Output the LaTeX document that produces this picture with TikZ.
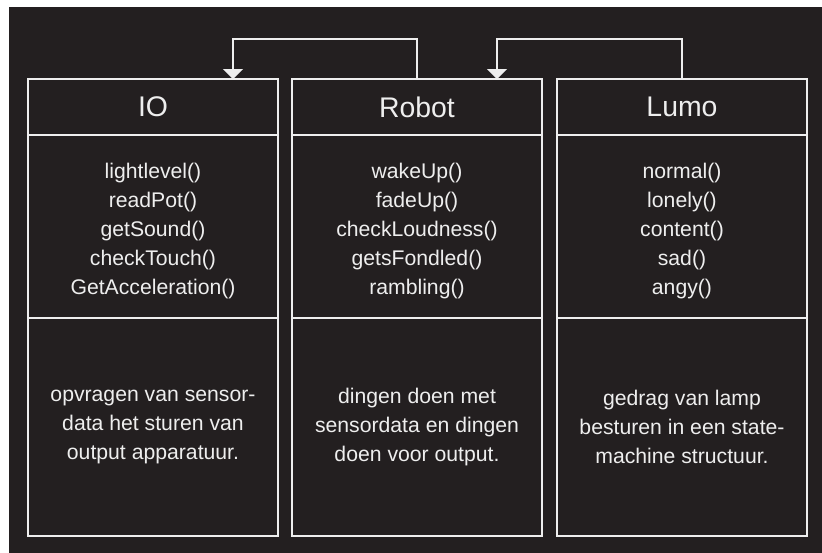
\documentclass[tikz,border=0pt]{standalone}
\usepackage{fontspec}
\setmainfont{Liberation Sans}
\usetikzlibrary{arrows.meta,positioning}
\definecolor{achtergrond}{RGB}{35,31,32}
\definecolor{wit}{RGB}{238,238,238}
\newcommand{\ophoog}{\rule{0pt}{19pt}}

\begin{document}
\begin{tikzpicture}[x=0.75pt, y=-0.75pt,
		vak/.style = {draw=wit, line width=1.5pt, text=wit, outer sep=0pt, inner sep=0pt, minimum width=187.5pt, align=center},
		kop/.style = {vak, minimum height=42pt, font=\fontsize{21.3pt}{25pt}\selectfont},
		lijst/.style = {vak, minimum height=137.25pt, font=\fontsize{15.9pt}{21.75pt}\selectfont},
		uitleg/.style = {vak, minimum height=163.5pt, font=\fontsize{15.9pt}{21.75pt}\selectfont},
		pijl/.style = {draw=wit, line width=1.5pt, -{Triangle[width=15pt,length=7.5pt]}}]
		\useasboundingbox [fill = white] (0,0) rectangle (822,553);
		\fill [achtergrond] (9,7) rectangle (822,553);
		% koppen
		\node [kop] (io) at (153,107) {IO};
		\node [kop, right = 10.5pt of io] (robot) {Robot};
		\node [kop, right = 11.25pt of robot] (lumo) {Lumo};
		% functies
		\node [lijst, below = 0pt of io] (iolijst) {\ophoog lightlevel()\\readPot()\\getSound()\\checkTouch()\\GetAcceleration()};
		\node [lijst, below = 0pt of robot] (robotlijst) {\ophoog wakeUp()\\fadeUp()\\checkLoudness()\\getsFondled()\\rambling()};
		\node [lijst, below = 0pt of lumo] (lumolijst) {\ophoog normal()\\lonely()\\content()\\sad()\\angy()};
		% uitleg
		\node [uitleg, below = 0pt of iolijst] (iouitleg) {opvragen van sensor-\\data het sturen van\\output apparatuur.};
		\node [uitleg, below = 0pt of robotlijst] (robotuitleg) {dingen doen met\\sensordata en dingen\\doen voor output.};
		\node [uitleg, below = 0pt of lumolijst] (lumouitleg) {gedrag van lamp\\besturen in een state-\\machine structuur.};
		% pijlen
		\draw [pijl] (robot.north) -- ++(0,-40) -| ([xshift=60pt]io.north);
		\draw [pijl] (lumo.north) -- ++(0,-40) -| ([xshift=60pt]robot.north);
	\end{tikzpicture}
\end{document}
